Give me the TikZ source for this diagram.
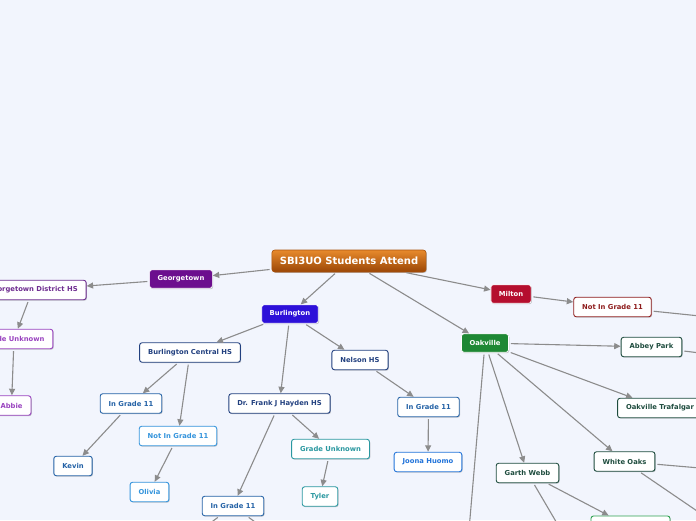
\documentclass[tikz,border=0pt]{standalone}
\usepackage{fontspec}
\setmainfont{DejaVu Sans}
\usetikzlibrary{arrows.meta, shadows}
\definecolor{MapBack}{HTML}{F2F5FD}
\definecolor{LinkGray}{HTML}{8C8C8C}
\definecolor{RootTop}{HTML}{E88A2C}
\definecolor{RootBottom}{HTML}{9A4606}
\definecolor{GeoPurple}{HTML}{6C0E8E}
\definecolor{GeoSchool}{HTML}{6E2C90}
\definecolor{GeoLight}{HTML}{9A44C0}
\definecolor{BurBlue}{HTML}{2D10D9}
\definecolor{BurNavy}{HTML}{22407F}
\definecolor{BurMid}{HTML}{2462A6}
\definecolor{BurSky}{HTML}{3494DC}
\definecolor{BurBright}{HTML}{2274DA}
\definecolor{BurTeal}{HTML}{2A98A0}
\definecolor{MilRed}{HTML}{B50E2E}
\definecolor{MilDark}{HTML}{8E1C1C}
\definecolor{OakGreen}{HTML}{1E8834}
\definecolor{OakDark}{HTML}{1E4C3E}
\definecolor{OakLight}{HTML}{2EA050}

\begin{document}
\begin{tikzpicture}[x=1pt, y=-1pt,
    topic/.style={rounded corners=2.5pt, inner xsep=8.5pt, inner ysep=0pt, minimum height=19.5pt,
        font=\fontsize{6.8}{8}\selectfont\bfseries,
        drop shadow={shadow xshift=0.8pt, shadow yshift=-0.9pt, opacity=0.22, fill=black}},
    sub/.style={topic, draw=#1, fill=white, text=#1, line width=0.9pt},
    city/.style={topic, fill=#1, draw=white, line width=0.7pt, text=white, minimum height=18.5pt, inner xsep=8pt},
    rootbox/.style={rounded corners=3pt, inner xsep=8pt, inner ysep=0pt, minimum height=22pt,
        top color=RootTop, bottom color=RootBottom, draw=RootBottom!80!RootTop, line width=0.6pt,
        text=white, font=\fontsize{10}{12}\selectfont\bfseries,
        drop shadow={shadow xshift=0.8pt, shadow yshift=-0.9pt, opacity=0.22, fill=black}},
    link/.style={draw=LinkGray, line width=1.1pt, -{Triangle[length=6.5pt, width=6pt]}, shorten <=2pt},
    loose/.style={draw=LinkGray, line width=1.1pt, shorten <=2pt},
  ]
    \useasboundingbox (0,0) rectangle (696,520);
    \clip (0,0) rectangle (696,520);
    \fill[MapBack] (0,0) rectangle (696,520);

    % centre
    \node[rootbox] (root) at (349,261) {SBI3UO Students Attend};

    % Georgetown
    \node[city=GeoPurple] (geo) at (181,279) {Georgetown};
    \node[sub=GeoSchool] (geoDist) at (32.5,290) {Georgetown District HS};
    \node[sub=GeoLight] (geoUnk) at (14,339) {Grade Unknown};
    \node[sub=GeoLight] (abbie) at (11.5,405.5) {Abbie};

    % Burlington
    \node[city=BurBlue] (bur) at (290,314) {Burlington};
    \node[sub=BurNavy] (burCentral) at (190,352.5) {Burlington Central HS};
    \node[sub=BurNavy] (nelson) at (360,360) {Nelson HS};
    \node[sub=BurNavy] (hayden) at (279.5,403.5) {Dr. Frank J Hayden HS};
    \node[sub=BurMid] (centralIn) at (131,403.5) {In Grade 11};
    \node[sub=BurSky] (centralNot) at (178,436) {Not In Grade 11};
    \node[sub=BurMid] (kevin) at (73,466) {Kevin};
    \node[sub=BurSky] (olivia) at (149.5,492) {Olivia};
    \node[sub=BurMid] (haydenIn) at (233,506) {In Grade 11};
    \node[sub=BurTeal] (haydenUnk) at (330.5,449) {Grade Unknown};
    \node[sub=BurTeal] (tyler) at (320,496.5) {Tyler};
    \node[sub=BurMid] (nelsonIn) at (428.5,407) {In Grade 11};
    \node[sub=BurBright] (joona) at (428,462) {Joona Huomo};

    % Milton
    \node[city=MilRed] (milton) at (511,294) {Milton};
    \node[sub=MilDark] (miltonNot) at (612.5,307) {Not In Grade 11};

    % Oakville
    \node[city=OakGreen] (oak) at (485,343) {Oakville};
    \node[sub=OakDark] (abbey) at (651.5,347) {Abbey Park};
    \node[sub=OakDark] (trafalgar) at (660,408) {Oakville Trafalgar};
    \node[sub=OakDark] (whiteOaks) at (624.5,461.5) {White Oaks};
    \node[sub=OakDark] (garth) at (527.5,473) {Garth Webb};
    \node[sub=OakLight, minimum width=79pt, minimum height=22pt] (garthKid) at (630.5,527) {};

    % free ends past the edge
    \coordinate (miltonEnd) at (700,316);
    \coordinate (abbeyEnd) at (700,353);
    \coordinate (oaksEndA) at (700,468);
    \coordinate (oaksEndB) at (700,513);
    \coordinate (garthEnd) at (558,525);
    \coordinate (oakEnd) at (469,530);
    \coordinate (haydenEndA) at (205,527);
    \coordinate (haydenEndB) at (262,527);

    % connectors
    \draw[link] (root) -- (geo);
    \draw[link] (root) -- (bur);
    \draw[link] (root) -- (oak);
    \draw[link] (root) -- (milton);
    \draw[link] (geo) -- (geoDist);
    \draw[link] (geoDist) -- (geoUnk);
    \draw[link] (geoUnk) -- (abbie);
    \draw[link] (bur) -- (burCentral);
    \draw[link] (bur) -- (hayden);
    \draw[link] (bur) -- (nelson);
    \draw[link] (burCentral) -- (centralIn);
    \draw[link] (burCentral) -- (centralNot);
    \draw[link] (centralIn) -- (kevin);
    \draw[link] (centralNot) -- (olivia);
    \draw[link] (hayden) -- (haydenIn);
    \draw[link] (hayden) -- (haydenUnk);
    \draw[link] (haydenUnk) -- (tyler);
    \draw[link] (nelson) -- (nelsonIn);
    \draw[link] (nelsonIn) -- (joona);
    \draw[link] (milton) -- (miltonNot);
    \draw[link] (oak) -- (abbey);
    \draw[link] (oak) -- (trafalgar);
    \draw[link] (oak) -- (whiteOaks);
    \draw[link] (oak) -- (garth);
    \draw[link] (garth) -- (garthKid);
    \draw[loose] (miltonNot) -- (miltonEnd);
    \draw[loose] (abbey) -- (abbeyEnd);
    \draw[loose] (whiteOaks) -- (oaksEndA);
    \draw[loose] (whiteOaks) -- (oaksEndB);
    \draw[loose] (garth) -- (garthEnd);
    \draw[loose] (oak) -- (oakEnd);
    \draw[loose] (haydenIn) -- (haydenEndA);
    \draw[loose] (haydenIn) -- (haydenEndB);
\end{tikzpicture}
\end{document}
